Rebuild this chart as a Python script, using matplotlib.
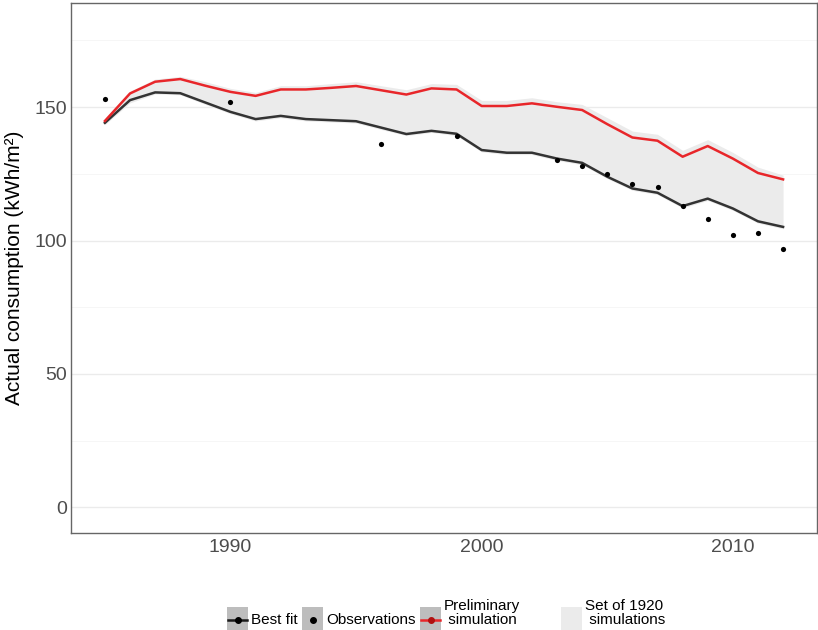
import matplotlib.pyplot as plt
from matplotlib.ticker import MultipleLocator
from matplotlib.patches import Rectangle
from matplotlib.lines import Line2D

plt.rcParams['font.family'] = ['Liberation Sans', 'DejaVu Sans']

# data
years = list(range(1985, 2013))
best_fit = [144.1, 152.6, 155.5, 155.2, 151.7, 148.2, 145.5, 146.7, 145.5, 145.1,
            144.7, 142.3, 139.9, 141.1, 140.0, 133.9, 132.9, 132.9, 130.7, 129.1,
            123.9, 119.5, 117.9, 112.9, 115.7, 112.0, 107.2, 105.1]
prelim = [144.8, 155.1, 159.5, 160.5, 158.0, 155.7, 154.2, 156.6, 156.6, 157.2,
          157.9, 156.3, 154.7, 157.0, 156.6, 150.4, 150.4, 151.4, 150.1, 148.9,
          143.6, 138.6, 137.4, 131.4, 135.4, 130.7, 125.3, 122.9]
band_upper = [145.5, 156.0, 160.5, 161.5, 159.5, 157.0, 155.5, 158.0, 158.0, 158.8,
              159.5, 158.0, 156.5, 158.8, 158.5, 152.5, 152.5, 153.5, 152.0, 151.0,
              146.0, 141.0, 139.8, 133.8, 137.8, 133.0, 127.5, 124.5]
band_lower = [143.4, 151.6, 154.9, 154.6, 151.0, 147.5, 144.8, 146.0, 144.8, 144.4,
              144.0, 141.6, 139.3, 140.5, 139.3, 133.2, 132.2, 132.2, 130.0, 128.4,
              123.2, 118.8, 117.2, 112.2, 115.0, 111.3, 106.5, 104.4]
obs_years = [1985, 1990, 1996, 1999, 2003, 2004, 2005, 2006, 2007, 2008, 2009, 2010, 2011, 2012]
obs_vals = [153, 152, 136, 139, 130, 128, 125, 121, 120, 113, 108, 102, 103, 97]

W, H = 818, 630
fig = plt.figure(figsize=(W / 100, H / 100), dpi=100)
ax = fig.add_axes([71 / W, 1 - 533 / H, (817 - 71) / W, (533 - 3) / H])

ax.fill_between(years, band_lower, band_upper, color='#EBEBEB', lw=0, zorder=1)
ax.plot(years, best_fit, color='#333333', lw=1.8, zorder=3)
ax.plot(years, prelim, color='#E8262A', lw=1.8, zorder=3)
ax.scatter(obs_years, obs_vals, s=14, color='black', zorder=4, lw=0)

ax.set_xlim(1983.65, 2013.35)
ax.set_ylim(-9.6, 189)
ax.set_xticks([1990, 2000, 2010])
ax.yaxis.set_major_locator(MultipleLocator(50))
ax.yaxis.set_minor_locator(MultipleLocator(25))
ax.grid(axis='y', which='major', color='#EBEBEB', lw=1.0, zorder=0)
ax.grid(axis='y', which='minor', color='#F5F5F5', lw=0.6, zorder=0)
ax.set_axisbelow(True)
ax.tick_params(axis='both', which='both', length=0, labelsize=14, labelcolor='#4D4D4D')
ax.tick_params(axis='x', pad=4)
ax.tick_params(axis='y', pad=3)
for s in ax.spines.values():
    s.set_color('#666666')
    s.set_linewidth(1.0)
ax.set_ylabel('Actual consumption (kWh/m²)', fontsize=15, labelpad=7)

# legend drawn by hand below the panel
def px(x, y):
    return x / W, 1 - y / H

key_bg = '#BDBDBD'
keys = [(227, 'Best fit'), (302, 'Observations'), (420, 'Preliminary\n simulation'),
        (561, 'Set of 1920\n simulations')]
ky0, ky1, kw = 607, 632, 21
for i, (kx, label) in enumerate(keys):
    color = '#EBEBEB' if i == 3 else key_bg
    x0, y0 = px(kx, ky1)
    fig.add_artist(Rectangle((x0, y0), kw / W, (ky1 - ky0) / H, transform=fig.transFigure,
                             facecolor=color, edgecolor='none'))
    cy = 620
    if i == 0:
        fig.add_artist(Line2D([px(kx + 1, cy)[0], px(kx + kw - 1, cy)[0]], [px(0, cy)[1]] * 2,
                              transform=fig.transFigure, color='#1a1a1a', lw=1.8))
        fig.add_artist(Line2D([px(kx + kw / 2, cy)[0]], [px(0, cy)[1]], transform=fig.transFigure,
                              marker='o', ms=4, color='black', lw=0))
    elif i == 1:
        fig.add_artist(Line2D([px(kx + kw / 2, cy)[0]], [px(0, cy)[1]], transform=fig.transFigure,
                              marker='o', ms=4, color='black', lw=0))
    elif i == 2:
        fig.add_artist(Line2D([px(kx + 1, cy)[0], px(kx + kw - 1, cy)[0]], [px(0, cy)[1]] * 2,
                              transform=fig.transFigure, color='#E8262A', lw=1.8))
        fig.add_artist(Line2D([px(kx + kw / 2, cy)[0]], [px(0, cy)[1]], transform=fig.transFigure,
                              marker='o', ms=4, color='#B01010', lw=0))
    ty = 620 if '\n' not in label else 613
    tx, tyf = px(kx + kw + 3, ty)
    fig.text(tx, tyf, label, fontsize=11, ha='left', va='center', linespacing=1.05)

fig.savefig('out.png', dpi=100)
